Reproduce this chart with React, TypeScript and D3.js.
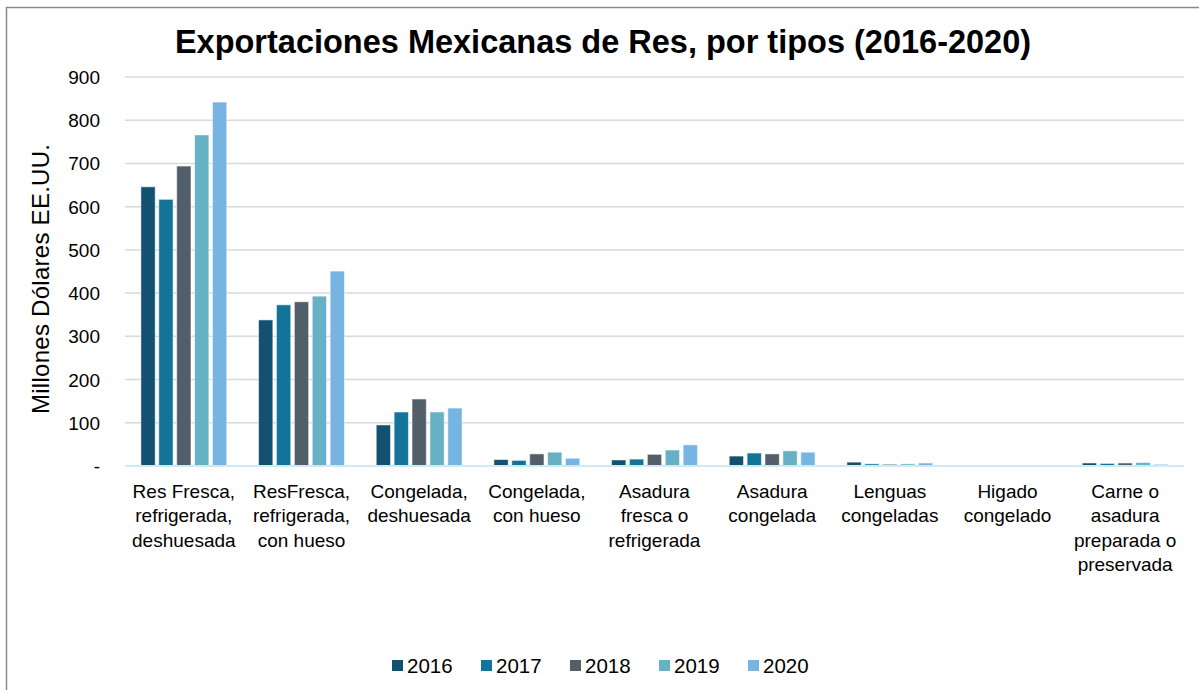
import React from "react";
import * as d3 from "d3";

const categories: string[][] = [
  ["Res Fresca,", "refrigerada,", "deshuesada"],
  ["ResFresca,", "refrigerada,", "con hueso"],
  ["Congelada,", "deshuesada"],
  ["Congelada,", "con hueso"],
  ["Asadura", "fresca o", "refrigerada"],
  ["Asadura", "congelada"],
  ["Lenguas", "congeladas"],
  ["Higado", "congelado"],
  ["Carne o", "asadura", "preparada o", "preservada"],
];
const years = ["2016", "2017", "2018", "2019", "2020"];
const v2016 = [646, 338, 95, 15, 14, 23, 9, 0, 7];
const v2017 = [617, 373, 125, 13, 16, 30, 5, 0, 6];
const v2018 = [694, 380, 155, 28, 27, 28, 4, 0, 7];
const v2019 = [766, 393, 125, 32, 37, 35, 5, 0, 8];
const v2020 = [842, 451, 134, 18, 49, 32, 7, 0, 4];
const series = [v2016, v2017, v2018, v2019, v2020];
const colors = ["#12516F", "#137499", "#525E6A", "#66B1C5", "#78B4E1"];
const yTicks = [0, 100, 200, 300, 400, 500, 600, 700, 800, 900];

const W = 1199;
const H = 690;
const left = 125;
const right = 1184;
const top = 77;
const bottom = 466;

export default function App() {
  const x = d3
    .scaleBand<number>()
    .domain(categories.map((_, i) => i))
    .range([left, right])
    .paddingInner(0.27)
    .paddingOuter(0.135);
  const xi = d3
    .scaleBand<string>()
    .domain(years)
    .range([0, x.bandwidth()])
    .paddingInner(0.2);
  const y = d3.scaleLinear().domain([0, 900]).range([bottom, top]);
  const font = "'Liberation Sans', Arial, sans-serif";

  return (
    <svg
      width={W}
      height={H}
      style={{ position: "absolute", left: 0, top: 0, background: "#fff" }}
      fontFamily={font}
    >
      <rect x={6.5} y={7.5} width={W + 20} height={H + 20} fill="#fff" stroke="#8a8a8a" strokeWidth={1.5} />
      <text x={603} y={53} textAnchor="middle" fontSize={32.5} fontWeight="bold" fill="#000">
        Exportaciones Mexicanas de Res, por tipos (2016-2020)
      </text>
      {yTicks.map((t) => (
        <g key={t}>
          {t > 0 && (
            <line x1={left} x2={right} y1={y(t)} y2={y(t)} stroke="#D9D9D9" strokeWidth={1.5} />
          )}
          <text x={100} y={y(t) + 7} textAnchor="end" fontSize={19} fill="#000">
            {t === 0 ? "-" : t}
          </text>
        </g>
      ))}
      <text
        transform={`translate(49,${279}) rotate(-90)`}
        textAnchor="middle"
        fontSize={24}
        textLength={270}
        lengthAdjust="spacing"
        fill="#000"
      >
        Millones Dólares EE.UU.
      </text>
      {series.map((s, si) =>
        s.map((v, ci) => (
          <rect
            key={`${si}-${ci}`}
            x={(x(ci) as number) + (xi(years[si]) as number)}
            y={y(v)}
            width={xi.bandwidth()}
            height={bottom - y(v)}
            fill={colors[si]}
            stroke="rgba(255,255,255,0.55)"
            strokeWidth={1}
          />
        ))
      )}
      <line x1={left} x2={right} y1={bottom} y2={bottom} stroke="#CDEAF6" strokeWidth={2} />
      {categories.map((lines, ci) => (
        <text
          key={ci}
          x={(x(ci) as number) + x.bandwidth() / 2}
          y={498}
          textAnchor="middle"
          fontSize={19}
          fill="#000"
        >
          {lines.map((l, li) => (
            <tspan key={li} x={(x(ci) as number) + x.bandwidth() / 2} dy={li === 0 ? 0 : 24.3}>
              {l}
            </tspan>
          ))}
        </text>
      ))}
      {years.map((yr, i) => (
        <g key={yr} transform={`translate(${392 + i * 89},0)`}>
          <rect x={0} y={660} width={11} height={11} fill={colors[i]} />
          <text x={15} y={673} fontSize={20.5} fill="#000">
            {yr}
          </text>
        </g>
      ))}
    </svg>
  );
}
